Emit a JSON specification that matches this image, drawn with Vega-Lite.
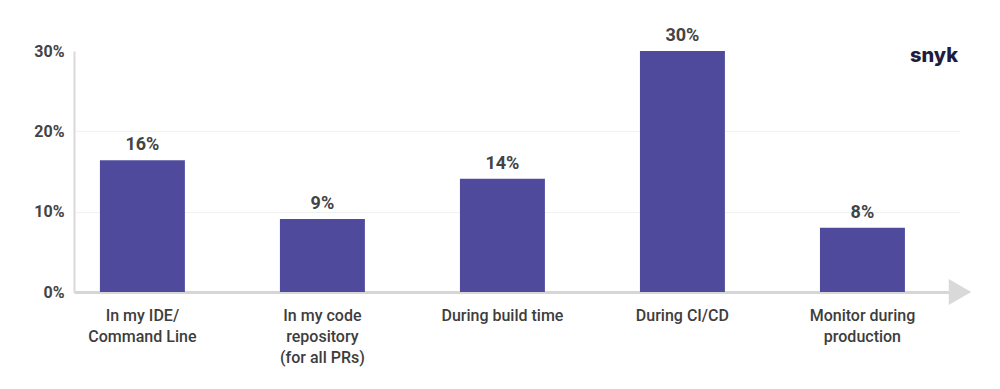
{
  "$schema": "https://vega.github.io/schema/vega-lite/v6.json",
  "width": 886,
  "height": 241,
  "autosize": {"type": "none"},
  "padding": {"left": 74, "top": 51, "right": 40, "bottom": 97},
  "background": "white",
  "config": {
    "view": {"stroke": null},
    "font": "Roboto"
  },
  "title": {
    "text": "snyk",
    "anchor": "end",
    "orient": "top",
    "frame": "group",
    "font": "Inter",
    "fontSize": 20,
    "fontWeight": 800,
    "color": "#1f1d3d",
    "offset": -59,
    "dx": -2,
    "baseline": "bottom"
  },
  "datasets": {
    "bars": [
      {"stage": "In my IDE/|Command Line", "pct": 16.4, "label": "16%"},
      {"stage": "In my code|repository|(for all PRs)", "pct": 9.1, "label": "9%"},
      {"stage": "During build time", "pct": 14.1, "label": "14%"},
      {"stage": "During CI/CD", "pct": 30.0, "label": "30%"},
      {"stage": "Monitor during|production", "pct": 8.0, "label": "8%"}
    ],
    "arrow": [{"end": 1, "zero": 0}]
  },
  "layer": [
    {
      "data": {"name": "bars"},
      "encoding": {
        "x": {
          "field": "stage", "type": "nominal", "sort": null,
          "scale": {"paddingInner": 0.528, "paddingOuter": 0.225, "align": 0.32},
          "axis": {
            "title": null,
            "labelAngle": 0,
            "labelExpr": "split(datum.label, '|')",
            "labelFont": "Roboto",
            "labelFontSize": 16,
            "labelFontWeight": 500,
            "labelColor": "#3d3d3d",
            "labelLineHeight": 21,
            "labelPadding": 15,
            "labelBaseline": "top",
            "ticks": false,
            "domainColor": "#d6d6d6",
            "domainWidth": 3,
            "grid": false
          }
        },
        "y": {
          "field": "pct", "type": "quantitative",
          "scale": {"domain": [0, 30], "nice": false},
          "axis": {
            "title": null,
            "values": [0, 10, 20, 30],
            "labelExpr": "datum.value + '%'",
            "labelFont": "Roboto",
            "labelFontSize": 16,
            "labelFontWeight": "bold",
            "labelColor": "#444444",
            "labelPadding": 10,
            "ticks": false,
            "domainColor": "#d9d9d9",
            "domainWidth": 2,
            "gridColor": "#f1f1f1",
            "gridWidth": 1,
            "gridOpacity": {"condition": {"test": "datum.value == 30", "value": 0}, "value": 1}
          }
        }
      },
      "layer": [
        {"mark": {"type": "bar", "color": "#4f4a9c"}},
        {
          "mark": {"type": "text", "baseline": "bottom", "dy": -6, "font": "Roboto", "fontSize": 18, "fontWeight": "bold", "color": "#444444"},
          "encoding": {"text": {"field": "label"}}
        }
      ]
    },
    {
      "data": {"name": "arrow"},
      "mark": {"type": "point", "shape": "triangle-right", "size": 676, "filled": true, "color": "#d9d9d9", "opacity": 1},
      "encoding": {
        "x": {"field": "end", "type": "quantitative", "scale": {"domain": [0, 1]}, "axis": null},
        "y": {"field": "zero", "type": "quantitative", "scale": {"domain": [0, 30], "nice": false}}
      }
    }
  ],
  "resolve": {"scale": {"x": "independent"}}
}
